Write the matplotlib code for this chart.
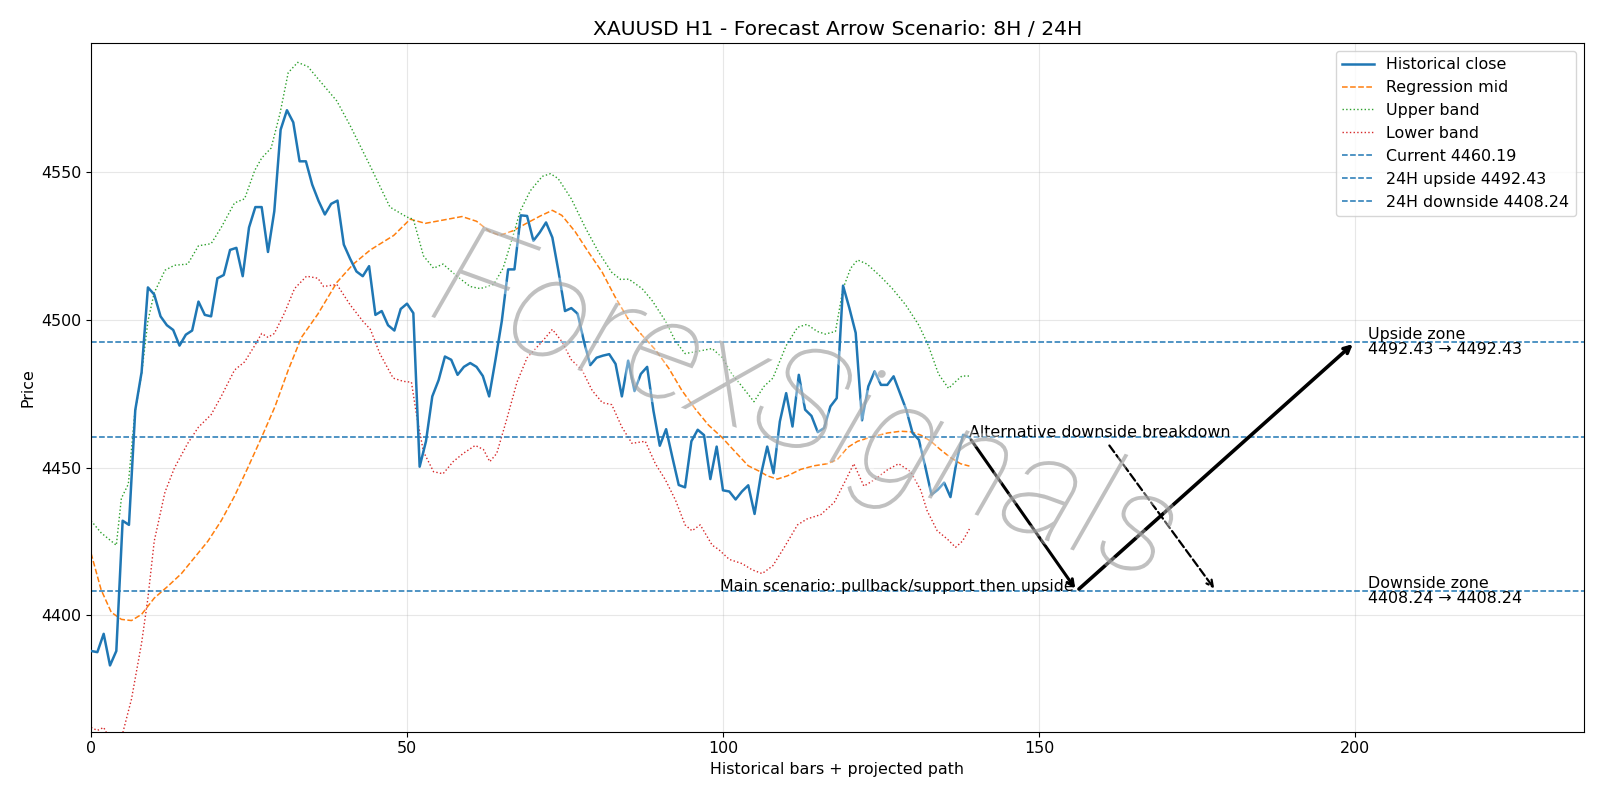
import matplotlib
matplotlib.use("Agg")
import matplotlib.pyplot as plt
import matplotlib.patheffects as pe
import numpy as np

plt.rcParams["font.size"] = 11.43

# ---------------- data ----------------
close = [4387.9, 4387.5, 4393.7, 4383.0, 4387.9, 4432.0, 4430.6, 4469.5, 4482.3, 4511.0,
         4508.6, 4501.2, 4498.2, 4496.6, 4491.3, 4495.0, 4496.4, 4506.2, 4501.7, 4501.2,
         4514.1, 4515.2, 4523.7, 4524.4, 4514.8, 4531.3, 4538.2, 4538.2, 4523.0, 4536.8,
         4564.4, 4571.0, 4566.9, 4553.7, 4553.7, 4545.8, 4540.3, 4535.7, 4539.3, 4540.4,
         4525.5, 4520.7, 4516.4, 4514.8, 4518.2, 4501.7, 4503.0, 4498.2, 4496.4, 4503.7,
         4505.5, 4502.3, 4450.3, 4458.9, 4474.1, 4479.6, 4487.6, 4486.5, 4481.4, 4484.1,
         4485.4, 4484.1, 4481.0, 4474.1, 4486.5, 4499.6, 4517.1, 4517.1, 4535.4, 4535.2,
         4526.8, 4529.6, 4533.0, 4527.9, 4516.1, 4503.0, 4504.0, 4502.1, 4492.7, 4484.7,
         4487.2, 4487.9, 4488.4, 4485.1, 4474.1, 4486.2, 4475.9, 4481.7, 4484.1, 4469.2,
         4457.4, 4463.0, 4453.4, 4444.1, 4443.3, 4458.9, 4462.8, 4461.0, 4446.1, 4457.1,
         4442.3, 4441.9, 4439.2, 4441.9, 4444.0, 4434.3, 4447.5, 4457.1, 4448.1, 4465.6,
         4475.2, 4463.9, 4481.4, 4469.6, 4467.5, 4462.0, 4463.4, 4470.7, 4473.5, 4511.6,
         4504.0, 4495.6, 4466.0, 4477.5, 4482.6, 4478.0, 4478.0, 4480.9, 4475.2, 4469.6,
         4461.7, 4459.4, 4450.4, 4440.8, 4442.5, 4444.9, 4440.0, 4452.6, 4461.1, 4460.19]

mid_points = [(0, 4421.0), (1.6, 4408.6), (3.2, 4401.0), (4.8, 4398.6), (6.4, 4398.2), (8, 4400.3),
              (10, 4405.8), (12.2, 4409.9), (14.3, 4414.1), (16.4, 4419.6), (18.5, 4425.1),
              (20.6, 4432.0), (22.7, 4440.3), (24.8, 4449.9), (27, 4460.3), (29.1, 4470.6),
              (31.2, 4483.0), (33.3, 4494.1), (35.9, 4502.0), (38.9, 4512.7), (41.5, 4518.9),
              (44.2, 4523.7), (47.9, 4528.6), (50.5, 4534.1), (52.9, 4532.7), (55.7, 4533.8),
              (58.7, 4535.0), (61, 4533.4), (63.1, 4529.9), (64.7, 4528.6), (66.8, 4530.2),
              (68.9, 4532.7), (71.1, 4535.2), (73, 4537.1), (74.5, 4535.4), (76.6, 4529.9),
              (78.7, 4523.0), (80.9, 4516.1), (82.9, 4507.9), (85, 4500.3), (87.2, 4494.8),
              (89.3, 4489.9), (91.4, 4483.7), (93.5, 4476.1), (95.6, 4469.9), (97.7, 4464.4),
              (99.8, 4460.3), (101.9, 4455.4), (104, 4450.6), (105.9, 4448.6), (107, 4447.2),
              (108.6, 4446.1), (110.2, 4447.2), (112.3, 4449.4), (114.4, 4450.6), (116.5, 4451.3),
              (118.1, 4452.7), (119.7, 4456.8), (121.3, 4458.9), (123.4, 4460.3), (126, 4461.7),
              (128.1, 4462.3), (129.7, 4462.1), (131.3, 4461.0), (132.9, 4458.9), (134.4, 4456.1),
              (136, 4453.4), (137.6, 4451.3), (139, 4450.5)]

upper_points = [(0, 4432.0), (1.6, 4427.9), (4, 4423.7), (4.8, 4439.6), (5.9, 4444.4), (6.9, 4467.9),
                (8, 4481.7), (9, 4499.6), (10, 4509.2), (11.7, 4516.8), (13.2, 4518.5), (15.3, 4518.9),
                (17, 4525.1), (19, 4525.8), (20.6, 4531.3), (22.7, 4539.6), (24.3, 4541.0),
                (25.9, 4550.6), (27, 4554.8), (28.5, 4558.2), (29.9, 4569.9), (31.2, 4583.7),
                (32.7, 4587.2), (34.3, 4585.8), (35.9, 4581.7), (38.9, 4574.1), (41, 4565.8),
                (44.2, 4552.0), (47.3, 4538.2), (50, 4534.8), (51, 4534.1), (52.6, 4521.7),
                (54.2, 4517.5), (55.7, 4518.9), (57.9, 4514.8), (60, 4511.3), (61.6, 4510.6),
                (63.7, 4512.0), (65.2, 4517.5), (66.8, 4528.6), (67.9, 4536.8), (69.5, 4543.7),
                (71.4, 4548.6), (72.7, 4549.5), (73.9, 4547.9), (76, 4541.0), (78.2, 4531.3),
                (80.3, 4523.0), (82.4, 4516.1), (83.8, 4513.7), (85.1, 4513.8), (87.2, 4510.6),
                (88.8, 4506.5), (90.9, 4499.6), (92.5, 4492.7), (94, 4488.6), (95.6, 4489.2),
                (98.3, 4490.3), (99.9, 4487.2), (101.4, 4481.7), (103, 4477.5), (104.9, 4472.3),
                (106.5, 4477.5), (107.9, 4480.3), (110, 4491.3), (111.8, 4497.5), (113.3, 4498.5),
                (114.9, 4496.1), (116.2, 4495.2), (117.8, 4496.1), (119, 4510.6), (120.2, 4517.5),
                (121.3, 4520.3), (122.8, 4518.9), (124.9, 4514.8), (126.8, 4510.6), (128.9, 4505.1),
                (131, 4498.2), (132.5, 4491.3), (134.1, 4481.7), (135.7, 4476.8), (136.7, 4478.9),
                (137.8, 4481.0), (139, 4481.0)]

lower_points = [(0, 4362.0), (1, 4361.0), (2, 4362.0), (3, 4358.0), (4, 4355.0), (5, 4360.0),
                (6.4, 4371.6), (8, 4390.6), (9, 4405.8), (10, 4425.1), (11.7, 4441.7), (13.2, 4449.9),
                (15.3, 4458.2), (17, 4463.7), (19, 4467.9), (20.6, 4474.1), (22.7, 4483.0),
                (24.3, 4485.8), (25.9, 4491.3), (27, 4495.4), (28, 4494.1), (29, 4495.4),
                (30.6, 4502.3), (32.2, 4510.6), (34.1, 4514.8), (35.9, 4514.1), (36.8, 4511.3),
                (38.9, 4512.0), (41, 4505.1), (43, 4499.6), (44.2, 4496.8), (45.7, 4488.6),
                (47.8, 4480.3), (49.4, 4479.2), (50.7, 4478.9), (51.5, 4467.9), (52.6, 4455.4),
                (54.2, 4448.6), (55.7, 4447.9), (57.3, 4452.0), (58.9, 4454.8), (60.8, 4457.5),
                (62.1, 4456.1), (63.1, 4452.0), (64.2, 4454.8), (65.8, 4466.5), (67.4, 4478.9),
                (69, 4487.2), (71.4, 4492.7), (73, 4496.8), (74.5, 4492.7), (76, 4486.5),
                (77.7, 4483.0), (79.3, 4476.1), (80.9, 4472.0), (82.4, 4471.3), (84, 4463.7),
                (85.6, 4458.2), (87.7, 4458.9), (89.3, 4451.3), (90.9, 4445.8), (92.5, 4438.9),
                (94, 4430.6), (95.1, 4428.6), (96.4, 4430.6), (98.3, 4423.7), (99.3, 4422.3),
                (101, 4418.9), (103, 4417.5), (104.6, 4415.4), (106.2, 4414.1), (107.9, 4416.8),
                (109.7, 4423.0), (111.8, 4430.6), (113.3, 4432.6), (115.5, 4434.1), (117.6, 4438.2),
                (119.1, 4444.4), (120.7, 4451.3), (122.3, 4443.7), (123.9, 4445.8), (126, 4449.2),
                (127.8, 4451.3), (129.7, 4448.6), (131.3, 4442.3), (132.3, 4435.4), (133.9, 4428.6),
                (135.5, 4425.8), (136.8, 4423.0), (137.9, 4425.1), (139, 4429.2)]

current = 4460.19
upside = 4492.43
downside = 4408.24
last_bar = 139
pivot_bar = 156
target_bar = 200
alt_target_bar = 178
zone_label_bar = 202

# ---------------- plot ----------------
fig = plt.figure(figsize=(16, 8), dpi=100)
ax = fig.add_axes([0.0569, 0.0855, 0.9329, 0.8609])

x_close = np.arange(len(close))
ax.plot(x_close, close, color="C0", lw=1.8, label="Historical close", zorder=3)
mx, my = zip(*mid_points)
ax.plot(mx, my, color="C1", ls="--", lw=1.1, label="Regression mid", zorder=2)
ux, uy = zip(*upper_points)
ax.plot(ux, uy, color="C2", ls=":", lw=1.0, label="Upper band", zorder=2)
lx, ly = zip(*lower_points)
ax.plot(lx, ly, color="C3", ls=":", lw=1.0, label="Lower band", zorder=2)

ax.axhline(current, color="C0", ls="--", lw=1.1, label=f"Current {current:.2f}")
ax.axhline(upside, color="C0", ls="--", lw=1.1, label=f"24H upside {upside:.2f}")
ax.axhline(downside, color="C0", ls="--", lw=1.1, label=f"24H downside {downside:.2f}")

# arrows
ax.annotate("", xy=(pivot_bar, downside), xytext=(last_bar, current),
            arrowprops=dict(arrowstyle="->", lw=2.2, color="black"), zorder=4)
ax.annotate("", xy=(target_bar, upside), xytext=(pivot_bar, downside),
            arrowprops=dict(arrowstyle="->", lw=2.6, color="black"), zorder=4)
ax.text(pivot_bar - 0.5, downside, "Main scenario: pullback/support then upside",
        ha="right", va="baseline", zorder=4)
ax.annotate("Alternative downside breakdown", xy=(alt_target_bar, downside),
            xytext=(last_bar, current),
            arrowprops=dict(arrowstyle="->", lw=1.6, ls="--", color="black"), zorder=4)

ax.text(zone_label_bar, upside, f"Upside zone\n{upside:.2f} → {upside:.2f}",
        va="center", ha="left", linespacing=1.0)
ax.text(zone_label_bar, downside, f"Downside zone\n{downside:.2f} → {downside:.2f}",
        va="center", ha="left", linespacing=1.0)

# watermark
ax.text(113, 4469, "ForexSignals", fontsize=104, color="#9a9a9a", alpha=0.5,
        rotation=-20, rotation_mode="anchor", ha="center", va="center",
        family=["Roboto", "DejaVu Sans"], style="italic", weight="light", zorder=5,
        path_effects=[pe.withStroke(linewidth=6, foreground="white", alpha=0.35)])

ax.set_xlim(0, 236.2)
ax.set_ylim(4360.6, 4593.8)
ax.set_xticks([0, 50, 100, 150, 200])
ax.set_yticks([4400, 4450, 4500, 4550])
ax.grid(True, alpha=0.3)
ax.set_title("XAUUSD H1 - Forecast Arrow Scenario: 8H / 24H", fontsize=14.6)
ax.set_xlabel("Historical bars + projected path")
ax.set_ylabel("Price")
ax.legend(loc="upper right")

fig.savefig("out.png", dpi=100)
